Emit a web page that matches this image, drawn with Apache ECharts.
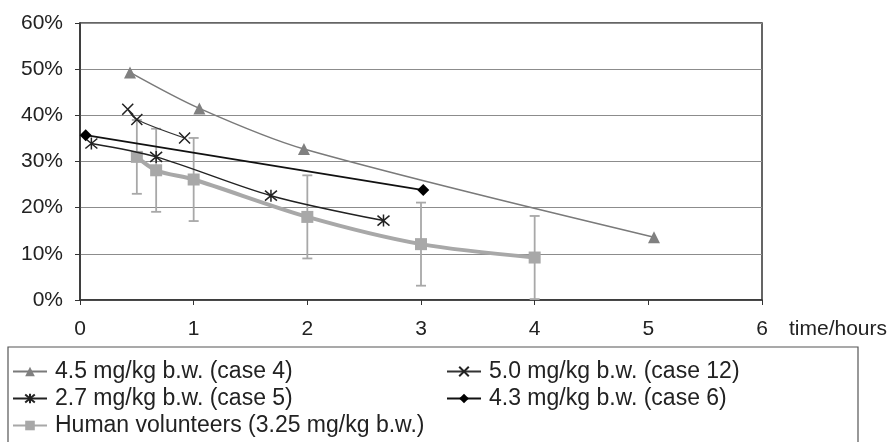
<!DOCTYPE html>
<html>
<head>
<meta charset="utf-8">
<script src="https://cdn.jsdelivr.net/npm/echarts@6/dist/echarts.min.js"></script>
<style>
  html, body { margin: 0; padding: 0; background: #fff; }
  #chart { width: 892px; height: 442px; }
</style>
</head>
<body>
<div id="chart"></div>
<script>
// 4.5 mg/kg b.w. (case 4)
var case4Times = [0.44, 1.05, 1.97, 5.05];
var case4Values = [49.3, 41.5, 32.7, 13.6];
// 5.0 mg/kg b.w. (case 12)
var case12Times = [0.42, 0.5, 0.92];
var case12Values = [41.3, 39.1, 35.1];
// 2.7 mg/kg b.w. (case 5)
var case5Times = [0.1, 0.67, 1.68, 2.67];
var case5Values = [33.9, 31.0, 22.6, 17.2];
// 4.3 mg/kg b.w. (case 6)
var case6Times = [0.05, 3.02];
var case6Values = [35.7, 23.8];
// Human volunteers (3.25 mg/kg b.w.)
var humanTimes = [0.5, 0.67, 1.0, 2.0, 3.0, 4.0];
var humanValues = [31.0, 28.1, 26.1, 18.0, 12.1, 9.2];
var humanErrors = [8, 9, 9, 9, 9, 9];

var yTicks = [0, 10, 20, 30, 40, 50, 60];
var xTicks = [0, 1, 2, 3, 4, 5, 6];

var names = [
    '4.5 mg/kg b.w. (case 4)',
    '5.0 mg/kg b.w. (case 12)',
    '2.7 mg/kg b.w. (case 5)',
    '4.3 mg/kg b.w. (case 6)',
    'Human volunteers (3.25 mg/kg b.w.)'
];

function pairs(xs, ys) {
    var out = [];
    for (var i = 0; i < xs.length; i++) {
        out.push([xs[i], ys[i]]);
    }
    return out;
}

var errData = [];
for (var i = 0; i < humanTimes.length; i++) {
    errData.push([humanTimes[i], humanValues[i] - humanErrors[i], humanValues[i] + humanErrors[i]]);
}

var font = 'Liberation Sans, Arial, sans-serif';
var chart = echarts.init(document.getElementById('chart'));

var option = {
    animation: false,
    grid: {
        left: 80, right: 130, top: 23, bottom: 142,
        show: true, borderColor: '#333', borderWidth: 1.5
    },
    xAxis: {
        type: 'value',
        min: xTicks[0], max: xTicks[xTicks.length - 1], interval: 1,
        name: 'time/hours',
        nameLocation: 'end',
        nameGap: 27,
        nameTextStyle: { color: '#222', fontSize: 21, fontFamily: font, verticalAlign: 'top', padding: [19, 0, 0, 0] },
        axisLine: { lineStyle: { color: '#333', width: 1.5 } },
        axisTick: { show: true, length: 5, lineStyle: { color: '#333' } },
        axisLabel: { color: '#222', fontSize: 21, fontFamily: font, margin: 19 },
        splitLine: { show: false }
    },
    yAxis: {
        type: 'value',
        min: yTicks[0], max: yTicks[yTicks.length - 1], interval: 10,
        axisLine: { show: true, lineStyle: { color: '#333', width: 1.5 } },
        axisTick: { show: true, length: 5, lineStyle: { color: '#333' } },
        axisLabel: { color: '#222', fontSize: 21, fontFamily: font, margin: 17, formatter: '{value}%' },
        splitLine: { lineStyle: { color: '#8c8c8c', width: 1.2 } }
    },
    legend: [{
        orient: 'vertical',
        left: 12, top: 360,
        itemWidth: 34, itemHeight: 12, itemGap: 4,
        padding: 0,
        textStyle: { color: '#222', fontSize: 23, fontFamily: font, padding: [0, 0, 0, 3] },
        data: [names[0], names[2], names[4]]
    }, {
        orient: 'vertical',
        left: 446, top: 360,
        itemWidth: 34, itemHeight: 12, itemGap: 4,
        padding: 0,
        textStyle: { color: '#222', fontSize: 23, fontFamily: font, padding: [0, 0, 0, 3] },
        data: [names[1], names[3]]
    }],
    graphic: [{
        type: 'rect',
        shape: { x: 8, y: 347, width: 850, height: 110 },
        style: { fill: 'none', stroke: '#555', lineWidth: 1.2 },
        silent: true
    }],
    series: [{
        type: 'custom',
        name: 'errors',
        z: 1,
        renderItem: function (params, api) {
            var x = api.value(0);
            var lo = api.coord([x, Math.max(0, api.value(1))]);
            var hi = api.coord([x, api.value(2)]);
            var w = 5;
            var st = { stroke: '#a8a8a8', lineWidth: 1.8 };
            return {
                type: 'group',
                children: [
                    { type: 'line', shape: { x1: lo[0], y1: lo[1], x2: hi[0], y2: hi[1] }, style: st },
                    { type: 'line', shape: { x1: hi[0] - w, y1: hi[1], x2: hi[0] + w, y2: hi[1] }, style: st },
                    { type: 'line', shape: { x1: lo[0] - w, y1: lo[1], x2: lo[0] + w, y2: lo[1] }, style: st }
                ]
            };
        },
        data: errData
    }, {
        name: names[4],
        type: 'line',
        z: 2,
        smooth: 0.3,
        symbol: 'rect',
        symbolSize: 12,
        lineStyle: { color: '#a8a8a8', width: 4 },
        itemStyle: { color: '#a8a8a8' },
        data: pairs(humanTimes, humanValues)
    }, {
        name: names[0],
        type: 'line',
        z: 3,
        smooth: 0.3,
        symbol: 'triangle',
        symbolSize: 12,
        lineStyle: { color: '#7a7a7a', width: 1.5 },
        itemStyle: { color: '#808080' },
        data: pairs(case4Times, case4Values)
    }, {
        name: names[1],
        type: 'line',
        z: 3,
        smooth: 0.3,
        symbol: 'path://M0,0L10,10M10,0L0,10',
        symbolSize: 11,
        lineStyle: { color: '#333', width: 1.2 },
        itemStyle: { color: '#222', borderColor: '#222', borderWidth: 1.5 },
        data: pairs(case12Times, case12Values)
    }, {
        name: names[2],
        type: 'line',
        z: 3,
        smooth: 0.3,
        symbol: 'path://M0,0L10,10M10,0L0,10M5,-1L5,11',
        symbolSize: 12,
        lineStyle: { color: '#222', width: 1.5 },
        itemStyle: { color: '#222', borderColor: '#222', borderWidth: 1.5 },
        data: pairs(case5Times, case5Values)
    }, {
        name: names[3],
        type: 'line',
        z: 3,
        symbol: 'diamond',
        symbolSize: 12,
        lineStyle: { color: '#111', width: 1.8 },
        itemStyle: { color: '#000' },
        data: pairs(case6Times, case6Values)
    }]
};
chart.setOption(option);
</script>
</body>
</html>
